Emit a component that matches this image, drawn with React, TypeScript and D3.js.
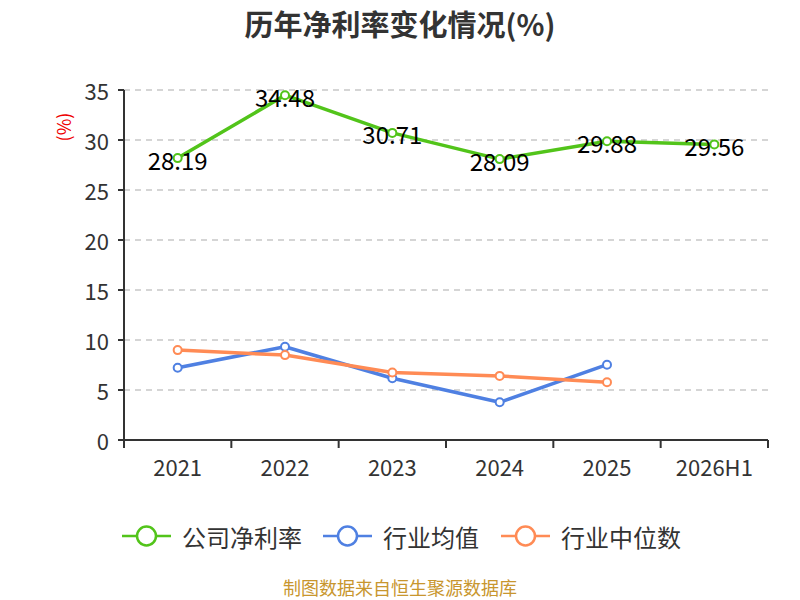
import React from 'react';
import * as d3 from 'd3';

const years = ['2021', '2022', '2023', '2024', '2025', '2026H1'];
const companyRate = [28.19, 34.48, 30.71, 28.09, 29.88, 29.56];
const industryAvg = [7.23, 9.33, 6.17, 3.77, 7.53];
const industryMedian = [8.99, 8.49, 6.75, 6.41, 5.77];
const yTicks = [0, 5, 10, 15, 20, 25, 30, 35];

const seriesNames = ['公司净利率', '行业均值', '行业中位数'];
const seriesColors = ['#52c41a', '#4f80e2', '#ff8b55'];

const W = 800;
const H = 600;
const margin = { top: 90, right: 32, bottom: 160, left: 124 };
const font = '"Noto Sans CJK SC", "Noto Sans", sans-serif';

export default function App() {
  const x = d3.scaleBand().domain(years).range([margin.left, W - margin.right]);
  const y = d3.scaleLinear().domain([0, 35]).range([H - margin.bottom, margin.top]);
  const cx = (i: number) => (x(years[i]) ?? 0) + x.bandwidth() / 2;

  const line = d3
    .line<number>()
    .x((_, i) => cx(i))
    .y(d => y(d));

  const allSeries = [companyRate, industryAvg, industryMedian];
  const legendX = [122, 323, 501];
  const legendY = 536;

  return (
    <svg width={W} height={H} style={{ position: 'absolute', left: 0, top: 0, fontFamily: font }}>
      <rect width={W} height={H} fill="#fff" />
      <text x={W / 2} y={23} textAnchor="middle" dominantBaseline="central" fontSize={29} fontWeight="bold" fill="#333">
        历年净利率变化情况(%)
      </text>

      {/* 网格 */}
      {yTicks.filter(t => t > 0).map(t => (
        <line key={t} x1={margin.left} x2={W - margin.right} y1={y(t)} y2={y(t)}
          stroke="#c8c8c8" strokeWidth={1.5} strokeDasharray="6,5" />
      ))}

      {/* Y 轴 */}
      <line x1={margin.left} x2={margin.left} y1={y(35)} y2={y(0)} stroke="#333" strokeWidth={2} />
      {yTicks.map(t => (
        <g key={t}>
          <line x1={margin.left - 6} x2={margin.left} y1={y(t)} y2={y(t)} stroke="#333" strokeWidth={2} />
          <text x={margin.left - 15} y={y(t)} textAnchor="end" dominantBaseline="central" fontSize={22} fill="#333">
            {t}
          </text>
        </g>
      ))}
      <text transform={`translate(63,${127}) rotate(-90)`} textAnchor="middle" dominantBaseline="central" fontSize={18} fill="#e00">
        (%)
      </text>

      {/* X 轴 */}
      <line x1={margin.left} x2={W - margin.right} y1={y(0)} y2={y(0)} stroke="#333" strokeWidth={2} />
      {years.map(yr => (
        <line key={'t' + yr} x1={x(yr) ?? 0} x2={x(yr) ?? 0} y1={y(0)} y2={y(0) + 8} stroke="#333" strokeWidth={2} />
      ))}
      <line x1={W - margin.right} x2={W - margin.right} y1={y(0)} y2={y(0) + 8} stroke="#333" strokeWidth={2} />
      {years.map((yr, i) => (
        <text key={yr} x={cx(i)} y={466} textAnchor="middle" dominantBaseline="central" fontSize={22} fill="#333">
          {yr}
        </text>
      ))}

      {/* 折线 */}
      {allSeries.map((s, k) => (
        <path key={k} d={line(s) ?? ''} fill="none" stroke={seriesColors[k]} strokeWidth={3.5} strokeLinejoin="round" />
      ))}
      {allSeries.map((s, k) =>
        s.map((v, i) => (
          <circle key={k + '-' + i} cx={cx(i)} cy={y(v)} r={4} fill="#fff" stroke={seriesColors[k]} strokeWidth={2} />
        ))
      )}

      {/* 数据标签 */}
      {companyRate.map((v, i) => (
        <text key={'l' + i} x={cx(i)} y={y(v) + 1} textAnchor="middle" dominantBaseline="central" fontSize={24} fill="#000">
          {v.toFixed(2)}
        </text>
      ))}

      {/* 图例 */}
      {seriesNames.map((n, k) => (
        <g key={n}>
          <line x1={legendX[k]} x2={legendX[k] + 49} y1={legendY} y2={legendY} stroke={seriesColors[k]} strokeWidth={2.5} />
          <circle cx={legendX[k] + 24.5} cy={legendY} r={9.5} fill="#fff" stroke={seriesColors[k]} strokeWidth={2.5} />
          <text x={legendX[k] + 60} y={legendY} dominantBaseline="central" fontSize={24} fill="#333">
            {n}
          </text>
        </g>
      ))}

      <text x={W / 2} y={587} textAnchor="middle" dominantBaseline="central" fontSize={18} fill="#c8962e">
        制图数据来自恒生聚源数据库
      </text>
    </svg>
  );
}
